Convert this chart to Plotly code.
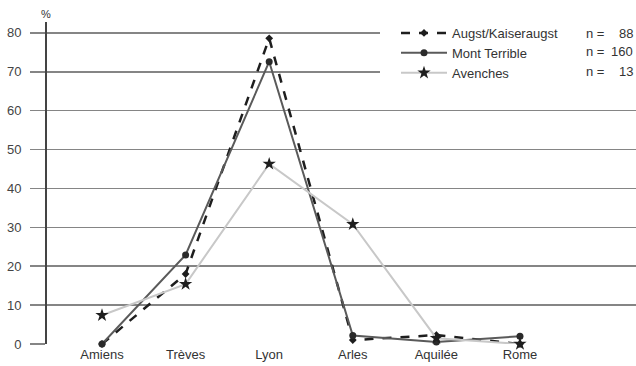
import plotly.graph_objects as go

categories = ["Amiens", "Trèves", "Lyon", "Arles", "Aquilée", "Rome"]
augst = [0, 18, 78.6, 1.0, 2.3, 0]
mont_terrible = [0, 22.9, 72.6, 2.2, 0.5, 2.0]
avenches = [7.4, 15.4, 46.3, 30.8, 1.5, 0]
series_names = ["Augst/Kaiseraugst", "Mont Terrible", "Avenches"]
n_values = [88, 160, 13]
y_ticks = [0, 10, 20, 30, 40, 50, 60, 70, 80]

FONT = "Liberation Sans, Arial, sans-serif"
xs = list(range(len(categories)))

fig = go.Figure()
fig.add_trace(go.Scatter(
    x=xs, y=augst, name=series_names[0], mode="lines+markers",
    line=dict(color="#1e1e1e", width=2.5, dash="dash"),
    marker=dict(symbol="diamond", size=6, color="#1e1e1e"),
    cliponaxis=False))
fig.add_trace(go.Scatter(
    x=xs, y=mont_terrible, name=series_names[1], mode="lines+markers",
    line=dict(color="#5a5a5a", width=2),
    marker=dict(symbol="circle", size=7, color="#2a2a2a"),
    cliponaxis=False))
fig.add_trace(go.Scatter(
    x=xs, y=avenches, name=series_names[2], mode="lines+markers",
    line=dict(color="#c8c8c8", width=2),
    marker=dict(symbol="star", size=10, color="#1e1e1e"),
    cliponaxis=False))

W, H = 636, 366
ml, mr, mt, mb = 47, 0, 22, 22
ph = H - mt - mb

def py(p):
    return (H - mb - p) / ph

def px(p):
    return (p - ml) / (W - ml - mr)

annotations = [dict(text="%", x=px(46), y=py(14), xref="paper", yref="paper",
                    xanchor="center", yanchor="middle",
                    showarrow=False, font=dict(family=FONT, size=11, color="#333"))]
rows = [33, 52, 71]
for n, r in zip(n_values, rows):
    annotations.append(dict(text="n =", x=px(584), y=py(r), xref="paper", yref="paper",
                            xanchor="left", yanchor="middle", showarrow=False,
                            font=dict(family=FONT, size=13, color="#333")))
    annotations.append(dict(text=str(n), x=px(635), y=py(r), xref="paper", yref="paper",
                            xanchor="right", yanchor="middle", showarrow=False,
                            font=dict(family=FONT, size=13, color="#333")))

fig.update_layout(
    width=W, height=H,
    margin=dict(l=ml, r=mr, t=mt, b=mb, autoexpand=False),
    plot_bgcolor="white", paper_bgcolor="white",
    font=dict(family=FONT, size=12, color="#333"),
    showlegend=True,
    legend=dict(x=px(396), y=py(18), xanchor="left", yanchor="top",
                bgcolor="rgba(0,0,0,0)", font=dict(family=FONT, size=13, color="#333"),
                tracegroupgap=0, itemwidth=46),
    xaxis=dict(range=[-0.658, 6.388], tickmode="array", tickvals=xs, ticktext=categories,
               showgrid=False, zeroline=False, showline=False, ticks="",
               automargin=False, ticklabelstandoff=1,
               tickfont=dict(family=FONT, size=13, color="#333")),
    yaxis=dict(range=[0, 82.8], tickmode="array", tickvals=y_ticks,
               showgrid=True, gridcolor="#858585", gridwidth=1.6,
               zeroline=False, showline=True, linecolor="#444", linewidth=2,
               ticks="outside", ticklen=15, tickcolor="#858585", tickwidth=1.6,
               ticklabelstandoff=6, automargin=False,
               tickfont=dict(family=FONT, size=13, color="#444")),
    shapes=[dict(type="rect", xref="paper", yref="paper",
                 x0=px(380), x1=1.0, y0=py(84), y1=py(18),
                 fillcolor="white", line=dict(width=0), layer="above")],
    annotations=annotations,
)

fig.write_html("out.html",
               config={"displayModeBar": False, "staticPlot": True},
               post_script="document.body.style.margin='0px';document.body.style.padding='0px';")
